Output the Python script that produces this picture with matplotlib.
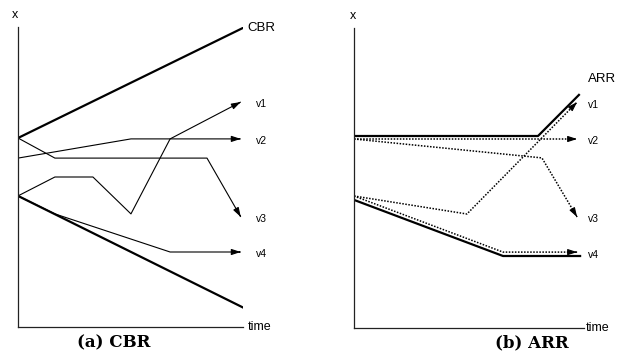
import matplotlib
matplotlib.use("Agg")
import matplotlib.pyplot as plt

# ========== 데이터 (시간, x) ==========
# (a) CBR
cbr_upper_t = [0, 100]
cbr_upper_x = [63, 99.7]
cbr_lower_t = [0, 100]
cbr_lower_x = [43.7, 6.5]

cbr_v1_t = [0, 16.4, 33.3, 50.2, 67.6, 99]
cbr_v1_x = [43.7, 50, 50, 37.7, 62.7, 75]
cbr_v2_t = [0, 50.2, 99]
cbr_v2_x = [56.3, 62.7, 62.7]
cbr_v3_t = [0, 16.4, 84, 99]
cbr_v3_x = [63, 56.3, 56.3, 36.7]
cbr_v4_t = [0, 16.4, 67.6, 99]
cbr_v4_x = [43.7, 37.7, 25, 25]

# (b) ARR
arr_upper_t = [0, 80, 97.8]
arr_upper_x = [64, 64, 77.7]
arr_lower_t = [0, 64.8, 98.3]
arr_lower_x = [42.7, 24, 24]

arr_v1_t = [0, 49.1, 97]
arr_v1_x = [44, 38, 75.3]
arr_v2_t = [0, 97]
arr_v2_x = [63, 63]
arr_v3_t = [0, 81.7, 97]
arr_v3_x = [63, 56.7, 37]
arr_v4_t = [0, 64.8, 97]
arr_v4_x = [44, 25.3, 25.3]

v_labels = ['v1', 'v2', 'v3', 'v4']

fig = plt.figure(figsize=(6.21, 3.62), dpi=100)


def arrow_line(ax, t, x, ls='-', lw=0.8):
    ax.plot(t, x, color='black', lw=lw, linestyle=ls, solid_capstyle='butt')
    # 끝점에 화살촉만 그리기
    t0, x0 = t[-2], x[-2]
    t1, x1 = t[-1], x[-1]
    ax.annotate('', xy=(t1, x1), xytext=(t1 - 0.02 * (t1 - t0), x1 - 0.02 * (x1 - x0)),
                arrowprops=dict(arrowstyle='-|>,head_length=0.55,head_width=0.18',
                                color='black', lw=0.8, shrinkA=0, shrinkB=0))


def setup(ax, xlab_x, time_x):
    ax.set_xlim(0, 100)
    ax.set_ylim(0, 100)
    for s in ['top', 'right']:
        ax.spines[s].set_visible(False)
    for s in ['left', 'bottom']:
        ax.spines[s].set_linewidth(0.9)
        ax.spines[s].set_color('#222222')
    ax.set_xticks([])
    ax.set_yticks([])
    ax.patch.set_alpha(0)
    ax.text(xlab_x, 1.04, 'x', transform=ax.transAxes, ha='center', va='center',
            fontsize=9, family='Liberation Sans')
    ax.text(time_x, 0.0, 'time', transform=ax.transAxes, ha='left', va='center',
            fontsize=9, family='Liberation Sans')


# ========== (a) CBR ==========
ax1 = fig.add_axes([18 / 621, 35 / 362, 225 / 621, 300 / 362])
setup(ax1, -0.013, 1.022)
ax1.plot(cbr_upper_t, cbr_upper_x, color='black', lw=1.6)
ax1.plot(cbr_lower_t, cbr_lower_x, color='black', lw=1.6)
cbr_series = [(cbr_v1_t, cbr_v1_x), (cbr_v2_t, cbr_v2_x),
              (cbr_v3_t, cbr_v3_x), (cbr_v4_t, cbr_v4_x)]
for t, x in cbr_series:
    arrow_line(ax1, t, x)
ax1.text(102, cbr_upper_x[-1], 'CBR', ha='left', va='center', fontsize=9.5,
         family='Liberation Sans', clip_on=False)
for lab, (t, x) in zip(v_labels, cbr_series):
    ax1.text(105.8, x[-1] - 0.8, lab, ha='left', va='center', fontsize=7.5,
             family='Liberation Sans', clip_on=False)

# ========== (b) ARR ==========
ax2 = fig.add_axes([354 / 621, 34 / 362, 230 / 621, 300 / 362])
setup(ax2, -0.004, 1.009)
ax2.plot(arr_upper_t, arr_upper_x, color='black', lw=1.6)
ax2.plot(arr_lower_t, arr_lower_x, color='black', lw=1.6)
arr_series = [(arr_v1_t, arr_v1_x), (arr_v2_t, arr_v2_x),
              (arr_v3_t, arr_v3_x), (arr_v4_t, arr_v4_x)]
for t, x in arr_series:
    arrow_line(ax2, t, x, ls=(0, (1, 1)), lw=1.1)
ax2.text(108, 83, 'ARR', ha='center', va='center', fontsize=9.5,
         family='Liberation Sans', clip_on=False)
for lab, (t, x) in zip(v_labels, arr_series):
    ax2.text(101.7, x[-1] - 0.8, lab, ha='left', va='center', fontsize=7.5,
             family='Liberation Sans', clip_on=False)

# 캡션
fig.text(114 / 621, 1 - 343 / 362, '(a) CBR', ha='center', va='center',
         fontsize=12, fontweight='bold', family='DejaVu Serif')
fig.text(532 / 621, 1 - 343 / 362, '(b) ARR', ha='center', va='center',
         fontsize=12, fontweight='bold', family='DejaVu Serif')

fig.savefig('out.png', dpi=100)
